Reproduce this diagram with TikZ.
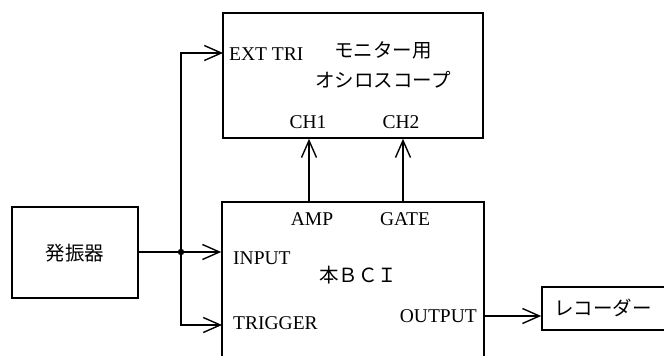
\documentclass[tikz,border=0pt]{standalone}
\usepackage{fontspec}
\setmainfont{Liberation Serif}
\newfontfamily\jp{Noto Sans CJK JP}
\usetikzlibrary{arrows.meta}
\begin{document}
\begin{tikzpicture}[x=1pt,y=-1pt,
  box/.style={draw,line width=1.6pt,inner sep=0pt},
  conn/.style={line width=1.4pt},
  arr/.style={conn,-{Straight Barb[length=17pt,width=15pt]}},
  lbl/.style={inner sep=0pt,font=\fontsize{19.5}{21}\selectfont},
  jlbl/.style={inner sep=0pt,font=\fontsize{19.5}{22}\selectfont\jp}]
\clip (0,0) rectangle (664,356);
% boxes
\node[box,minimum width=260,minimum height=125] (osc) at (353,75.5) {};
\node[box,minimum width=126,minimum height=91] (gen) at (75,252.5) {};
\node[box,minimum width=262,minimum height=168] (bci) at (353,286) {};
\node[box,minimum width=126,minimum height=43] (rec) at (605,308.5) {};
% texts
\node[jlbl] (gent) at (75,253) {発振器};
\node[jlbl] (mon1) at (383,50) {モニター用};
\node[jlbl] (mon2) at (383,80) {オシロスコープ};
\node[jlbl] (bcit) at (358,275) {本ＢＣＩ};
\node[jlbl] (rect) at (603,308) {レコーダー};
\node[lbl,anchor=west] (ext) at (229,54) {EXT TRI};
\node[lbl] (ch1) at (308,122) {CH1};
\node[lbl] (ch2) at (401,122) {CH2};
\node[lbl] (amp) at (312,219) {AMP};
\node[lbl] (gate) at (405,219) {GATE};
\node[lbl,anchor=west] (inp) at (233,258) {INPUT};
\node[lbl,anchor=west] (trg) at (233,323) {TRIGGER};
\node[lbl,anchor=east] (outp) at (477,316) {OUTPUT};
% connection points
\coordinate (j) at (181,252);
\coordinate (extin) at (223,53);
\coordinate (trgin) at (222,325);
\coordinate (ch1b) at (309,202);
\coordinate (ch2b) at (403,202);
\coordinate (outb) at (484,316);
% connectors
\draw[conn] (gen.east |- j) -- (j);
\draw[arr] (j) -- (bci.west |- j);
\draw[arr] (j) |- (extin);
\draw[arr] (j) |- (trgin);
\fill (j) circle (3.2);
\draw[arr] (ch1b) -- (ch1b |- osc.south);
\draw[arr] (ch2b) -- (ch2b |- osc.south);
\draw[arr] (outb) -- (rec.west |- outb);
\end{tikzpicture}
\end{document}
